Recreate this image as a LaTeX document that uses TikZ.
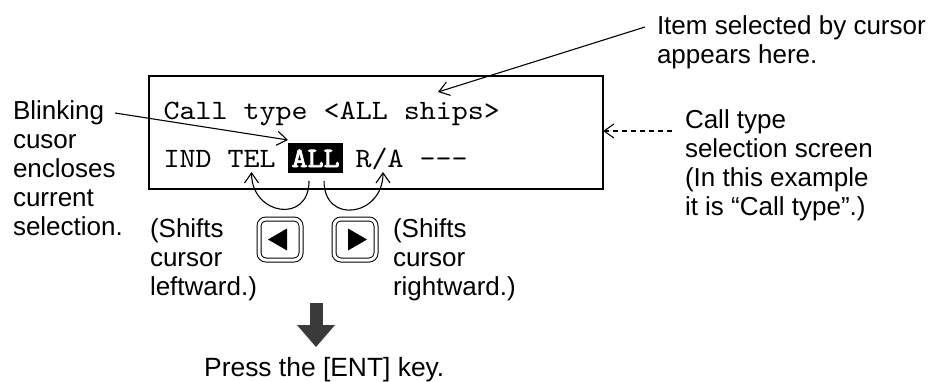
\documentclass[tikz,border=0pt]{standalone}
\usepackage{fontspec}
\setmainfont{Liberation Sans}
\newfontfamily\scrfont{lmmono10-regular.otf}[FakeStretch=1.09]
\newfontfamily\scrbold{lmmono10-regular.otf}[FakeStretch=1.09,FakeBold=3]
\usetikzlibrary{arrows.meta}
\definecolor{arrowgray}{HTML}{3A3A3A}
\tikzset{
  screenbox/.style={draw, line width=1.8pt, minimum width=454pt, minimum height=113pt, inner sep=0pt, outer sep=0pt},
  mono/.style={font=\scrfont\fontsize{28}{28}\selectfont, inner sep=0pt, outer sep=0pt, anchor=base west},
  selbox/.style={fill=black, text=white, font=\scrbold\fontsize{28}{28}\selectfont, inner xsep=3.5pt, inner ysep=0pt, outer sep=0pt, text height=24pt, text depth=6pt, anchor=base west},
  note/.style={font=\fontsize{26}{29}\selectfont, align=left, inner sep=0pt, outer sep=0pt, anchor=north west},
  lead/.style={line width=1.1pt, -{Straight Barb[length=10pt,width=14pt]}},
  keybox/.style={draw, double, double distance=3pt, line width=1pt, rounded corners=7pt, minimum width=42pt, minimum height=41pt},
  bigarrow/.style={draw=arrowgray, line width=13pt, -{Triangle[length=22pt,width=38pt,line width=0pt]}}
}
\begin{document}
\begin{tikzpicture}[x=1pt,y=1pt]
\useasboundingbox (0,0) rectangle (943,381);
\node[screenbox] (screen) at (376,248.5) {};
\node[mono] (line1) at (163.5,261) {Call type <ALL ships>};
\node[mono] (ind) at (163.5,214) {IND};
\node[mono] (tel) at (227.5,214) {TEL};
\node[selbox] (sel) at (288,214) {ALL};
\node[mono] (ra) at (355.5,214) {R/A};
\node[mono] (dashes) at (419.5,214) {-{}-{}-};
\node[note] (item) at (657,365) {Item selected by cursor\\appears here.};
\node[note] (blink) at (13,280) {Blinking\\cusor\\encloses\\current\\selection.};
\node[note] (ctype) at (685,271) {Call type\\selection screen\\(In this example\\it is “Call type”.)};
\node[note] (shiftl) at (150,162) {(Shifts\\cursor\\leftward.)};
\node[note] (shiftr) at (393,162) {(Shifts\\cursor\\rightward.)};
\node[anchor=base west, inner sep=0pt, font=\fontsize{26.4}{29}\selectfont] (press) at (204,5) {Press the [ENT] key.};
\node[keybox] (keyl) at (280,141.5) {};
\node[keybox] (keyr) at (355,141.5) {};
\fill ([xshift=-12pt]keyl.center) -- ([shift={(7pt,11pt)}]keyl.center) -- ([shift={(7pt,-11pt)}]keyl.center) -- cycle;
\fill ([xshift=12pt]keyr.center) -- ([shift={(-7pt,11pt)}]keyr.center) -- ([shift={(-7pt,-11pt)}]keyr.center) -- cycle;
\coordinate (itemfoot) at ([shift={(-12pt,-11pt)}]item.north west);
\coordinate (blinkfoot) at ([shift={(102pt,-12pt)}]blink.north west);
\coordinate (ctypefoot) at ([shift={(-13pt,-21pt)}]ctype.north west);
\draw[lead] (itemfoot) -- ([shift={(274.5pt,28pt)}]line1.base west);
\draw[lead] (blinkfoot) -- ([yshift=3pt]sel.north west);
\draw[lead, dash pattern=on 5pt off 4pt] (ctypefoot) -- (ctypefoot -| screen.east);
\draw[lead] ([shift={(-6.5pt,-8pt)}]sel.south) to[out=-90,in=-90,looseness=1.9] ([yshift=-5pt]tel.base);
\draw[lead] ([shift={(8.5pt,-8pt)}]sel.south) to[out=-90,in=-90,looseness=1.9] ([shift={(3.5pt,-5pt)}]ra.base);
\coordinate (push) at (316,78);
\coordinate (pushend) at (316,34);
\draw[bigarrow] (push) -- (pushend);
\end{tikzpicture}
\end{document}
